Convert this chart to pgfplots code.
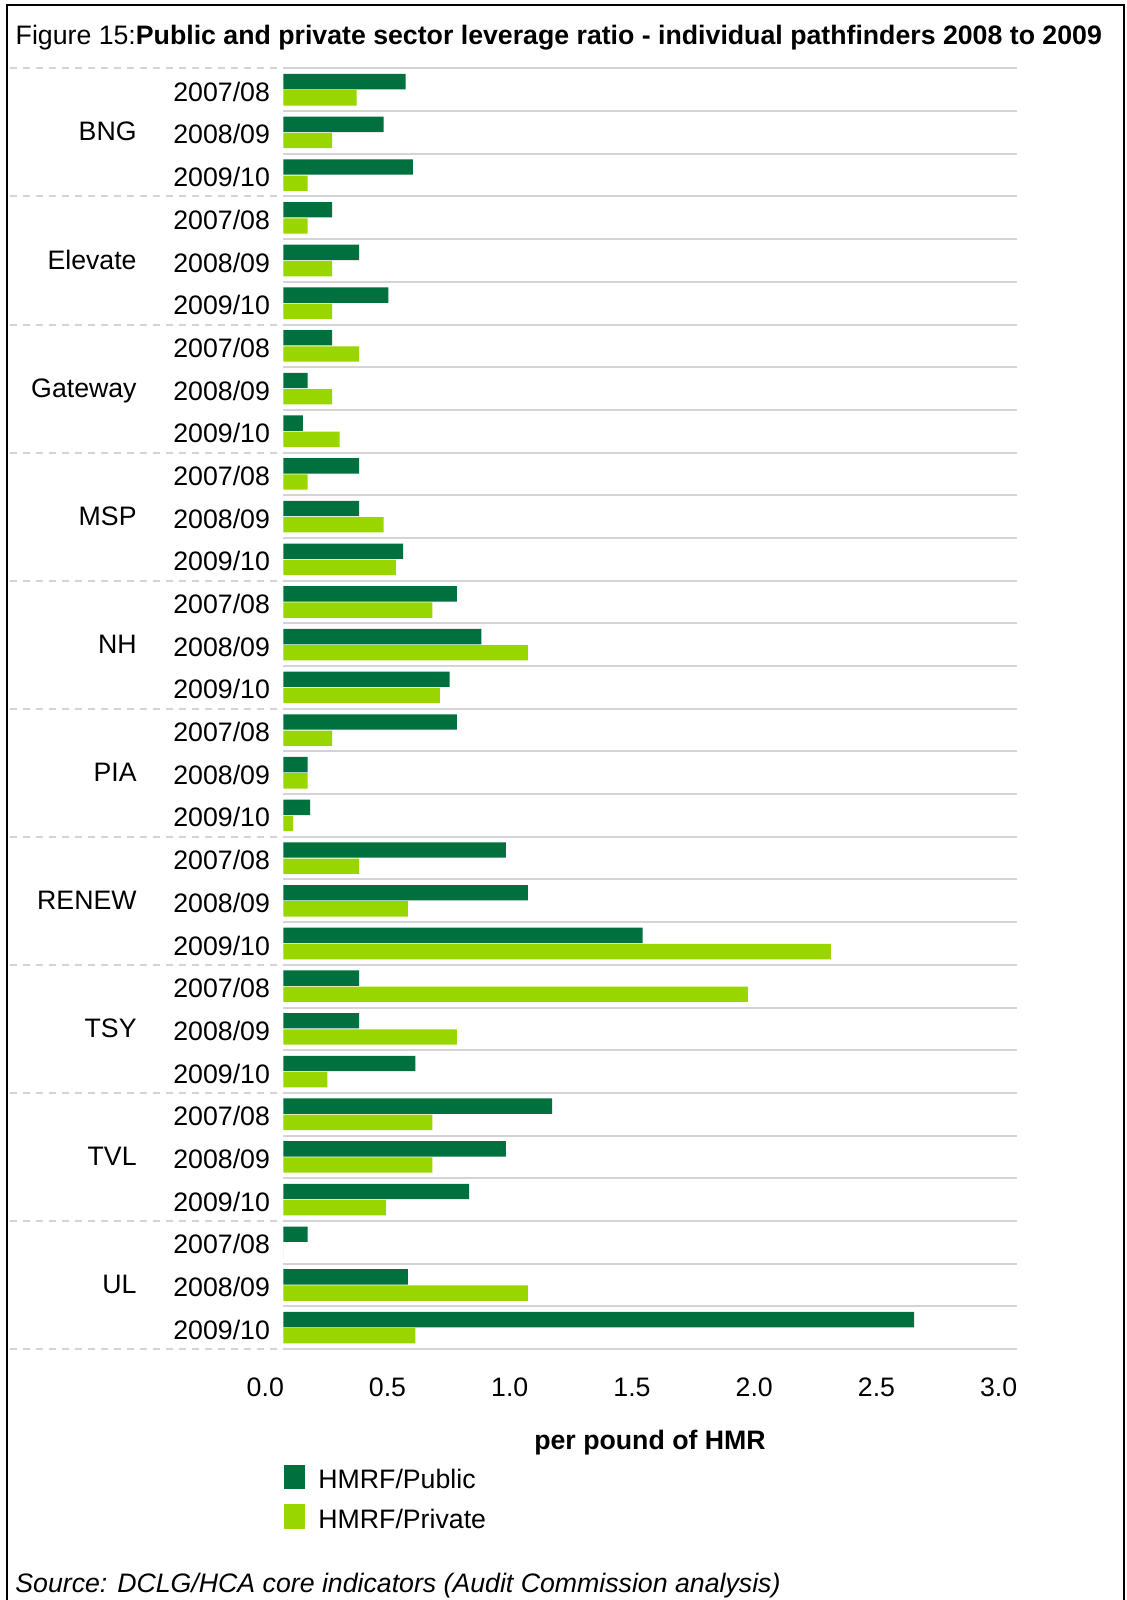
\documentclass[border=0pt]{standalone}
\usepackage{fontspec}
\setmainfont{Liberation Sans}
\usepackage{pgfplots}
\pgfplotsset{compat=1.18}
\usepackage{pgfplotstable}
\definecolor{pubgreen}{RGB}{0,112,62}
\definecolor{privgreen}{RGB}{153,214,0}
\definecolor{gridgray}{RGB}{212,212,212}
\newcommand\cf{\fontsize{13.35}{16}\selectfont}

\pgfplotstableread{
row pub priv
0 0.50 0.30
1 0.41 0.20
2 0.53 0.10
3 0.20 0.10
4 0.31 0.20
5 0.43 0.20
6 0.20 0.31
7 0.10 0.20
8 0.08 0.23
9 0.31 0.10
10 0.31 0.41
11 0.49 0.46
12 0.71 0.61
13 0.81 1.00
14 0.68 0.64
15 0.71 0.20
16 0.10 0.10
17 0.11 0.04
18 0.91 0.31
19 1.00 0.51
20 1.47 2.24
21 0.31 1.90
22 0.31 0.71
23 0.54 0.18
24 1.10 0.61
25 0.91 0.61
26 0.76 0.42
27 0.10 0.00
28 0.51 1.00
29 2.58 0.54
}\datatable

\begin{document}
\begin{tikzpicture}[font=\cf]
\useasboundingbox (0,0) rectangle (563pt,-800pt);
\fill[white] (0,0) rectangle (563pt,-800pt);
\draw[line width=1.4pt] (3.5pt,-800pt) -- (3.5pt,-2.5pt) -- (562pt,-2.5pt) -- (562pt,-800pt);
\node[anchor=base west, inner sep=0pt] at (7.65pt,-22.15pt) {Figure 15:\textbf{Public and private sector leverage ratio - individual pathfinders 2008 to 2009}};
\begin{axis}[
  at={(141.65pt,-674.5pt)}, anchor=south west,
  scale only axis, width=366.7pt, height=640.3pt,
  xbar, bar width=0.36,
  xmin=0, xmax=3, ymin=-0.5, ymax=29.5, y dir=reverse,
  axis line style={draw=none}, major tick length=0pt, minor tick length=0pt,
  tick style={draw=none},
  xtick={0,0.5,1,1.5,2,2.5,3},
  /pgf/number format/assume math mode=true,
  xticklabel={\pgfmathprintnumber[fixed,fixed zerofill,precision=1]{\tick}},
  xticklabel style={font=\cf, anchor=base, inner sep=0pt, yshift=-23.85pt, xshift=-9pt},
  ytick={0,...,29},
  yticklabels={2007/08,2008/09,2009/10,2007/08,2008/09,2009/10,2007/08,2008/09,2009/10,2007/08,2008/09,2009/10,2007/08,2008/09,2009/10,2007/08,2008/09,2009/10,2007/08,2008/09,2009/10,2007/08,2008/09,2009/10,2007/08,2008/09,2009/10,2007/08,2008/09,2009/10},
  yticklabel style={font=\cf, anchor=east, inner sep=0pt, xshift=-6.5pt, yshift=-1pt},
  minor ytick={-0.5,0.5,...,29.5},
  yminorgrids, minor grid style={gridgray, line width=1pt},
  xlabel={\textbf{per pound of HMR}},
  xlabel style={font=\cf, at={(axis description cs:0.5,0)}, anchor=base, yshift=-50pt, inner sep=0pt},
  clip=false,
]
\addplot[draw=none, fill=pubgreen, bar shift=-0.19] table[x=pub, y=row]{\datatable};
\addplot[draw=none, fill=privgreen, bar shift=0.19] table[x=priv, y=row]{\datatable};
\pgfplotsinvokeforeach{-0.5,2.5,5.5,8.5,11.5,14.5,17.5,20.5,23.5,26.5,29.5}{
  \draw[gridgray, line width=1pt, dash pattern=on 3.5pt off 3pt] ([xshift=-136.65pt]axis cs:0,#1) -- ([xshift=-2.65pt]axis cs:0,#1);
}
\node[anchor=base east, inner sep=0pt, xshift=-73.15pt, yshift=-4.25pt] at (axis cs:0,1) {BNG};
\node[anchor=base east, inner sep=0pt, xshift=-73.15pt, yshift=-4.25pt] at (axis cs:0,4) {Elevate};
\node[anchor=base east, inner sep=0pt, xshift=-73.15pt, yshift=-4.25pt] at (axis cs:0,7) {Gateway};
\node[anchor=base east, inner sep=0pt, xshift=-73.15pt, yshift=-4.25pt] at (axis cs:0,10) {MSP};
\node[anchor=base east, inner sep=0pt, xshift=-73.15pt, yshift=-4.25pt] at (axis cs:0,13) {NH};
\node[anchor=base east, inner sep=0pt, xshift=-73.15pt, yshift=-4.25pt] at (axis cs:0,16) {PIA};
\node[anchor=base east, inner sep=0pt, xshift=-73.15pt, yshift=-4.25pt] at (axis cs:0,19) {RENEW};
\node[anchor=base east, inner sep=0pt, xshift=-73.15pt, yshift=-4.25pt] at (axis cs:0,22) {TSY};
\node[anchor=base east, inner sep=0pt, xshift=-73.15pt, yshift=-4.25pt] at (axis cs:0,25) {TVL};
\node[anchor=base east, inner sep=0pt, xshift=-73.15pt, yshift=-4.25pt] at (axis cs:0,28) {UL};
\end{axis}
\fill[pubgreen] (142pt,-732.5pt) rectangle (152.5pt,-744.5pt);
\node[anchor=base west, inner sep=0pt] at (159pt,-744pt) {HMRF/Public};
\fill[privgreen] (142pt,-752pt) rectangle (152.5pt,-764.5pt);
\node[anchor=base west, inner sep=0pt] at (159pt,-764pt) {HMRF/Private};
\node[anchor=base west, inner sep=0pt] at (7.5pt,-796pt) {\itshape Source: DCLG/HCA core indicators (Audit Commission analysis)};
\end{tikzpicture}
\end{document}
